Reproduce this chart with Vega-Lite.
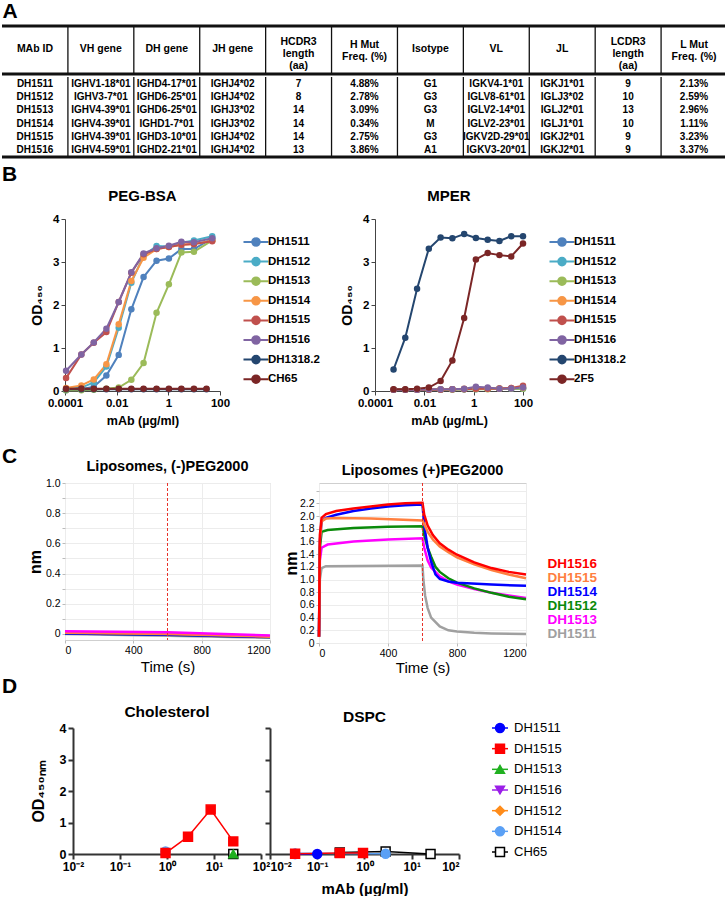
{
"$schema": "https://vega.github.io/schema/vega-lite/v6.json",
"background": "white",
"padding": 0,
"config": {
  "font": "Liberation Sans",
  "view": {"stroke": null},
  "axis": {"labelColor": "#000", "titleColor": "#000", "domainColor": "#444", "tickColor": "#444"},
  "title": {"color": "#000"},
  "legend": {"labelColor": "#000"}
},
"datasets": {
  "tbl": [
    {"MAb ID":"DH1511","VH gene":"IGHV1-18*01","DH gene":"IGHD4-17*01","JH gene":"IGHJ4*02","HCDR3":"7","H Mut":"4.88%","Isotype":"G1","VL":"IGKV4-1*01","JL":"IGKJ1*01","LCDR3":"9","L Mut":"2.13%"},
    {"MAb ID":"DH1512","VH gene":"IGHV3-7*01","DH gene":"IGHD6-25*01","JH gene":"IGHJ4*02","HCDR3":"8","H Mut":"2.78%","Isotype":"G3","VL":"IGLV8-61*01","JL":"IGLJ3*02","LCDR3":"10","L Mut":"2.59%"},
    {"MAb ID":"DH1513","VH gene":"IGHV4-39*01","DH gene":"IGHD6-25*01","JH gene":"IGHJ3*02","HCDR3":"14","H Mut":"3.09%","Isotype":"G3","VL":"IGLV2-14*01","JL":"IGLJ2*01","LCDR3":"13","L Mut":"2.96%"},
    {"MAb ID":"DH1514","VH gene":"IGHV4-39*01","DH gene":"IGHD1-7*01","JH gene":"IGHJ3*02","HCDR3":"14","H Mut":"0.34%","Isotype":"M","VL":"IGLV2-23*01","JL":"IGLJ1*01","LCDR3":"10","L Mut":"1.11%"},
    {"MAb ID":"DH1515","VH gene":"IGHV4-39*01","DH gene":"IGHD3-10*01","JH gene":"IGHJ4*02","HCDR3":"14","H Mut":"2.75%","Isotype":"G3","VL":"IGKV2D-29*01","JL":"IGKJ2*01","LCDR3":"9","L Mut":"3.23%"},
    {"MAb ID":"DH1516","VH gene":"IGHV4-59*01","DH gene":"IGHD2-21*01","JH gene":"IGHJ4*02","HCDR3":"13","H Mut":"3.86%","Isotype":"A1","VL":"IGKV3-20*01","JL":"IGKJ2*01","LCDR3":"9","L Mut":"3.37%"}
  ],
  "tblhead": [
    {"col":"MAb ID","label":"MAb ID"},{"col":"VH gene","label":"VH gene"},{"col":"DH gene","label":"DH gene"},{"col":"JH gene","label":"JH gene"},
    {"col":"HCDR3","label":"HCDR3\nlength\n(aa)"},{"col":"H Mut","label":"H Mut\nFreq. (%)"},{"col":"Isotype","label":"Isotype"},
    {"col":"VL","label":"VL"},{"col":"JL","label":"JL"},{"col":"LCDR3","label":"LCDR3\nlength\n(aa)"},{"col":"L Mut","label":"L Mut\nFreq. (%)"}
  ],
  "peg": [
    {"ab":"DH1511","conc":0.00011,"od":0.02},{"ab":"DH1511","conc":0.00043,"od":0.04},{"ab":"DH1511","conc":0.0013,"od":0.1},{"ab":"DH1511","conc":0.004,"od":0.36},{"ab":"DH1511","conc":0.012,"od":0.84},{"ab":"DH1511","conc":0.037,"od":1.9},{"ab":"DH1511","conc":0.11,"od":2.65},{"ab":"DH1511","conc":0.35,"od":3.03},{"ab":"DH1511","conc":1.05,"od":3.08},{"ab":"DH1511","conc":3.2,"od":3.3},{"ab":"DH1511","conc":9.8,"od":3.3},{"ab":"DH1511","conc":50,"od":3.55},
    {"ab":"DH1512","conc":0.00011,"od":0.04},{"ab":"DH1512","conc":0.00043,"od":0.08},{"ab":"DH1512","conc":0.0013,"od":0.2},{"ab":"DH1512","conc":0.004,"od":0.57},{"ab":"DH1512","conc":0.012,"od":1.47},{"ab":"DH1512","conc":0.037,"od":2.52},{"ab":"DH1512","conc":0.11,"od":3.15},{"ab":"DH1512","conc":0.35,"od":3.37},{"ab":"DH1512","conc":1.05,"od":3.36},{"ab":"DH1512","conc":3.2,"od":3.45},{"ab":"DH1512","conc":9.8,"od":3.5},{"ab":"DH1512","conc":50,"od":3.6},
    {"ab":"DH1513","conc":0.00011,"od":0.02},{"ab":"DH1513","conc":0.00043,"od":0.02},{"ab":"DH1513","conc":0.0013,"od":0.03},{"ab":"DH1513","conc":0.004,"od":0.05},{"ab":"DH1513","conc":0.012,"od":0.08},{"ab":"DH1513","conc":0.037,"od":0.26},{"ab":"DH1513","conc":0.11,"od":0.65},{"ab":"DH1513","conc":0.35,"od":1.82},{"ab":"DH1513","conc":1.05,"od":2.48},{"ab":"DH1513","conc":3.2,"od":3.22},{"ab":"DH1513","conc":9.8,"od":3.24},{"ab":"DH1513","conc":50,"od":3.5},
    {"ab":"DH1514","conc":0.00011,"od":0.07},{"ab":"DH1514","conc":0.00043,"od":0.13},{"ab":"DH1514","conc":0.0013,"od":0.27},{"ab":"DH1514","conc":0.004,"od":0.62},{"ab":"DH1514","conc":0.012,"od":1.55},{"ab":"DH1514","conc":0.037,"od":2.56},{"ab":"DH1514","conc":0.11,"od":3.1},{"ab":"DH1514","conc":0.35,"od":3.3},{"ab":"DH1514","conc":1.05,"od":3.35},{"ab":"DH1514","conc":3.2,"od":3.4},{"ab":"DH1514","conc":9.8,"od":3.42},{"ab":"DH1514","conc":50,"od":3.5},
    {"ab":"DH1515","conc":0.00011,"od":0.3},{"ab":"DH1515","conc":0.00043,"od":0.85},{"ab":"DH1515","conc":0.0013,"od":1.12},{"ab":"DH1515","conc":0.004,"od":1.37},{"ab":"DH1515","conc":0.012,"od":2.07},{"ab":"DH1515","conc":0.037,"od":2.75},{"ab":"DH1515","conc":0.11,"od":3.18},{"ab":"DH1515","conc":0.35,"od":3.3},{"ab":"DH1515","conc":1.05,"od":3.35},{"ab":"DH1515","conc":3.2,"od":3.4},{"ab":"DH1515","conc":9.8,"od":3.42},{"ab":"DH1515","conc":50,"od":3.48},
    {"ab":"DH1516","conc":0.00011,"od":0.47},{"ab":"DH1516","conc":0.00043,"od":0.85},{"ab":"DH1516","conc":0.0013,"od":1.13},{"ab":"DH1516","conc":0.004,"od":1.45},{"ab":"DH1516","conc":0.012,"od":2.07},{"ab":"DH1516","conc":0.037,"od":2.76},{"ab":"DH1516","conc":0.11,"od":3.2},{"ab":"DH1516","conc":0.35,"od":3.32},{"ab":"DH1516","conc":1.05,"od":3.38},{"ab":"DH1516","conc":3.2,"od":3.47},{"ab":"DH1516","conc":9.8,"od":3.46},{"ab":"DH1516","conc":50,"od":3.55},
    {"ab":"DH1318.2","conc":0.00011,"od":0.04},{"ab":"DH1318.2","conc":0.00043,"od":0.04},{"ab":"DH1318.2","conc":0.0013,"od":0.04},{"ab":"DH1318.2","conc":0.004,"od":0.04},{"ab":"DH1318.2","conc":0.012,"od":0.04},{"ab":"DH1318.2","conc":0.037,"od":0.04},{"ab":"DH1318.2","conc":0.11,"od":0.04},{"ab":"DH1318.2","conc":0.35,"od":0.04},{"ab":"DH1318.2","conc":1.05,"od":0.04},{"ab":"DH1318.2","conc":3.2,"od":0.04},{"ab":"DH1318.2","conc":9.8,"od":0.04},{"ab":"DH1318.2","conc":30,"od":0.04},
    {"ab":"CH65","conc":0.00011,"od":0.05},{"ab":"CH65","conc":0.00043,"od":0.06},{"ab":"CH65","conc":0.0013,"od":0.05},{"ab":"CH65","conc":0.004,"od":0.05},{"ab":"CH65","conc":0.012,"od":0.05},{"ab":"CH65","conc":0.037,"od":0.05},{"ab":"CH65","conc":0.11,"od":0.05},{"ab":"CH65","conc":0.35,"od":0.05},{"ab":"CH65","conc":1.05,"od":0.05},{"ab":"CH65","conc":3.2,"od":0.05},{"ab":"CH65","conc":9.8,"od":0.05},{"ab":"CH65","conc":30,"od":0.05}
  ],
  "mper": [
    {"ab":"DH1511","conc":0.000565,"od":0.03},{"ab":"DH1511","conc":0.00169,"od":0.03},{"ab":"DH1511","conc":0.00508,"od":0.03},{"ab":"DH1511","conc":0.0152,"od":0.03},{"ab":"DH1511","conc":0.0457,"od":0.03},{"ab":"DH1511","conc":0.137,"od":0.04},{"ab":"DH1511","conc":0.412,"od":0.04},{"ab":"DH1511","conc":1.23,"od":0.04},{"ab":"DH1511","conc":3.7,"od":0.05},{"ab":"DH1511","conc":11.1,"od":0.05},{"ab":"DH1511","conc":33.3,"od":0.05},{"ab":"DH1511","conc":100,"od":0.06},
    {"ab":"DH1512","conc":0.000565,"od":0.03},{"ab":"DH1512","conc":0.00169,"od":0.03},{"ab":"DH1512","conc":0.00508,"od":0.03},{"ab":"DH1512","conc":0.0152,"od":0.03},{"ab":"DH1512","conc":0.0457,"od":0.04},{"ab":"DH1512","conc":0.137,"od":0.04},{"ab":"DH1512","conc":0.412,"od":0.04},{"ab":"DH1512","conc":1.23,"od":0.05},{"ab":"DH1512","conc":3.7,"od":0.05},{"ab":"DH1512","conc":11.1,"od":0.05},{"ab":"DH1512","conc":33.3,"od":0.06},{"ab":"DH1512","conc":100,"od":0.06},
    {"ab":"DH1513","conc":0.000565,"od":0.03},{"ab":"DH1513","conc":0.00169,"od":0.03},{"ab":"DH1513","conc":0.00508,"od":0.03},{"ab":"DH1513","conc":0.0152,"od":0.03},{"ab":"DH1513","conc":0.0457,"od":0.03},{"ab":"DH1513","conc":0.137,"od":0.03},{"ab":"DH1513","conc":0.412,"od":0.04},{"ab":"DH1513","conc":1.23,"od":0.04},{"ab":"DH1513","conc":3.7,"od":0.04},{"ab":"DH1513","conc":11.1,"od":0.05},{"ab":"DH1513","conc":33.3,"od":0.05},{"ab":"DH1513","conc":100,"od":0.05},
    {"ab":"DH1514","conc":0.000565,"od":0.03},{"ab":"DH1514","conc":0.00169,"od":0.03},{"ab":"DH1514","conc":0.00508,"od":0.03},{"ab":"DH1514","conc":0.0152,"od":0.04},{"ab":"DH1514","conc":0.0457,"od":0.04},{"ab":"DH1514","conc":0.137,"od":0.04},{"ab":"DH1514","conc":0.412,"od":0.05},{"ab":"DH1514","conc":1.23,"od":0.05},{"ab":"DH1514","conc":3.7,"od":0.06},{"ab":"DH1514","conc":11.1,"od":0.06},{"ab":"DH1514","conc":33.3,"od":0.07},{"ab":"DH1514","conc":100,"od":0.08},
    {"ab":"DH1515","conc":0.000565,"od":0.03},{"ab":"DH1515","conc":0.00169,"od":0.03},{"ab":"DH1515","conc":0.00508,"od":0.03},{"ab":"DH1515","conc":0.0152,"od":0.03},{"ab":"DH1515","conc":0.0457,"od":0.03},{"ab":"DH1515","conc":0.137,"od":0.04},{"ab":"DH1515","conc":0.412,"od":0.04},{"ab":"DH1515","conc":1.23,"od":0.05},{"ab":"DH1515","conc":3.7,"od":0.05},{"ab":"DH1515","conc":11.1,"od":0.06},{"ab":"DH1515","conc":33.3,"od":0.07},{"ab":"DH1515","conc":100,"od":0.12},
    {"ab":"DH1516","conc":0.000565,"od":0.03},{"ab":"DH1516","conc":0.00169,"od":0.03},{"ab":"DH1516","conc":0.00508,"od":0.03},{"ab":"DH1516","conc":0.0152,"od":0.04},{"ab":"DH1516","conc":0.0457,"od":0.04},{"ab":"DH1516","conc":0.137,"od":0.04},{"ab":"DH1516","conc":0.412,"od":0.05},{"ab":"DH1516","conc":1.23,"od":0.1},{"ab":"DH1516","conc":3.7,"od":0.08},{"ab":"DH1516","conc":11.1,"od":0.05},{"ab":"DH1516","conc":33.3,"od":0.06},{"ab":"DH1516","conc":100,"od":0.08},
    {"ab":"DH1318.2","conc":0.000565,"od":0.5},{"ab":"DH1318.2","conc":0.00169,"od":1.24},{"ab":"DH1318.2","conc":0.00508,"od":2.38},{"ab":"DH1318.2","conc":0.0152,"od":3.31},{"ab":"DH1318.2","conc":0.0457,"od":3.57},{"ab":"DH1318.2","conc":0.137,"od":3.55},{"ab":"DH1318.2","conc":0.412,"od":3.65},{"ab":"DH1318.2","conc":1.23,"od":3.56},{"ab":"DH1318.2","conc":3.7,"od":3.52},{"ab":"DH1318.2","conc":11.1,"od":3.49},{"ab":"DH1318.2","conc":33.3,"od":3.6},{"ab":"DH1318.2","conc":100,"od":3.6},
    {"ab":"2F5","conc":0.000565,"od":0.04},{"ab":"2F5","conc":0.00169,"od":0.04},{"ab":"2F5","conc":0.00508,"od":0.05},{"ab":"2F5","conc":0.0152,"od":0.08},{"ab":"2F5","conc":0.0457,"od":0.23},{"ab":"2F5","conc":0.137,"od":0.71},{"ab":"2F5","conc":0.412,"od":1.7},{"ab":"2F5","conc":1.23,"od":3.06},{"ab":"2F5","conc":3.7,"od":3.21},{"ab":"2F5","conc":11.1,"od":3.16},{"ab":"2F5","conc":33.3,"od":3.13},{"ab":"2F5","conc":100,"od":3.43}
  ],
  "lipoNeg": [
    {"ab":"DH1511","t":0,"nm":0.0},{"ab":"DH1511","t":600,"nm":-0.012},{"ab":"DH1511","t":1200,"nm":-0.025},
    {"ab":"DH1512","t":0,"nm":0.005},{"ab":"DH1512","t":600,"nm":-0.005},{"ab":"DH1512","t":1200,"nm":-0.02},
    {"ab":"DH1514","t":0,"nm":0.003},{"ab":"DH1514","t":600,"nm":-0.005},{"ab":"DH1514","t":1200,"nm":-0.02},
    {"ab":"DH1516","t":0,"nm":0.01},{"ab":"DH1516","t":600,"nm":0.003},{"ab":"DH1516","t":1200,"nm":-0.015},
    {"ab":"DH1515","t":0,"nm":0.008},{"ab":"DH1515","t":600,"nm":0.0},{"ab":"DH1515","t":1200,"nm":-0.018},
    {"ab":"DH1513","t":0,"nm":0.018},{"ab":"DH1513","t":600,"nm":0.012},{"ab":"DH1513","t":1200,"nm":-0.01}
  ],
  "lipoPos": [
    {"ab":"DH1511","t":0,"nm":0.1},{"ab":"DH1511","t":5,"nm":1.0},{"ab":"DH1511","t":15,"nm":1.18},{"ab":"DH1511","t":40,"nm":1.21},{"ab":"DH1511","t":600,"nm":1.22},{"ab":"DH1511","t":605,"nm":1.0},{"ab":"DH1511","t":615,"nm":0.75},{"ab":"DH1511","t":630,"nm":0.55},{"ab":"DH1511","t":650,"nm":0.4},{"ab":"DH1511","t":700,"nm":0.26},{"ab":"DH1511","t":750,"nm":0.2},{"ab":"DH1511","t":800,"nm":0.18},{"ab":"DH1511","t":900,"nm":0.16},{"ab":"DH1511","t":1000,"nm":0.15},{"ab":"DH1511","t":1200,"nm":0.14},
    {"ab":"DH1513","t":0,"nm":0.1},{"ab":"DH1513","t":5,"nm":1.3},{"ab":"DH1513","t":15,"nm":1.5},{"ab":"DH1513","t":50,"nm":1.55},{"ab":"DH1513","t":200,"nm":1.6},{"ab":"DH1513","t":400,"nm":1.63},{"ab":"DH1513","t":600,"nm":1.65},{"ab":"DH1513","t":610,"nm":1.5},{"ab":"DH1513","t":630,"nm":1.3},{"ab":"DH1513","t":650,"nm":1.19},{"ab":"DH1513","t":675,"nm":1.12},{"ab":"DH1513","t":700,"nm":1.05},{"ab":"DH1513","t":750,"nm":0.97},{"ab":"DH1513","t":800,"nm":0.92},{"ab":"DH1513","t":900,"nm":0.85},{"ab":"DH1513","t":1000,"nm":0.79},{"ab":"DH1513","t":1100,"nm":0.75},{"ab":"DH1513","t":1200,"nm":0.71},
    {"ab":"DH1512","t":0,"nm":0.1},{"ab":"DH1512","t":5,"nm":1.5},{"ab":"DH1512","t":15,"nm":1.75},{"ab":"DH1512","t":50,"nm":1.78},{"ab":"DH1512","t":200,"nm":1.81},{"ab":"DH1512","t":400,"nm":1.83},{"ab":"DH1512","t":600,"nm":1.84},{"ab":"DH1512","t":610,"nm":1.7},{"ab":"DH1512","t":630,"nm":1.5},{"ab":"DH1512","t":650,"nm":1.36},{"ab":"DH1512","t":675,"nm":1.2},{"ab":"DH1512","t":700,"nm":1.12},{"ab":"DH1512","t":750,"nm":1.02},{"ab":"DH1512","t":800,"nm":0.95},{"ab":"DH1512","t":900,"nm":0.86},{"ab":"DH1512","t":1000,"nm":0.79},{"ab":"DH1512","t":1100,"nm":0.73},{"ab":"DH1512","t":1200,"nm":0.69},
    {"ab":"DH1514","t":0,"nm":0.1},{"ab":"DH1514","t":5,"nm":1.6},{"ab":"DH1514","t":15,"nm":1.92},{"ab":"DH1514","t":40,"nm":1.97},{"ab":"DH1514","t":100,"nm":2.02},{"ab":"DH1514","t":200,"nm":2.08},{"ab":"DH1514","t":300,"nm":2.12},{"ab":"DH1514","t":400,"nm":2.15},{"ab":"DH1514","t":500,"nm":2.17},{"ab":"DH1514","t":600,"nm":2.18},{"ab":"DH1514","t":610,"nm":1.85},{"ab":"DH1514","t":630,"nm":1.5},{"ab":"DH1514","t":650,"nm":1.28},{"ab":"DH1514","t":675,"nm":1.08},{"ab":"DH1514","t":700,"nm":1.01},{"ab":"DH1514","t":750,"nm":0.97},{"ab":"DH1514","t":800,"nm":0.95},{"ab":"DH1514","t":1000,"nm":0.92},{"ab":"DH1514","t":1200,"nm":0.9},
    {"ab":"DH1515","t":0,"nm":0.1},{"ab":"DH1515","t":5,"nm":1.6},{"ab":"DH1515","t":15,"nm":1.92},{"ab":"DH1515","t":40,"nm":1.96},{"ab":"DH1515","t":100,"nm":1.97},{"ab":"DH1515","t":300,"nm":1.96},{"ab":"DH1515","t":600,"nm":1.93},{"ab":"DH1515","t":610,"nm":1.87},{"ab":"DH1515","t":630,"nm":1.75},{"ab":"DH1515","t":660,"nm":1.63},{"ab":"DH1515","t":700,"nm":1.52},{"ab":"DH1515","t":750,"nm":1.43},{"ab":"DH1515","t":800,"nm":1.35},{"ab":"DH1515","t":900,"nm":1.24},{"ab":"DH1515","t":1000,"nm":1.15},{"ab":"DH1515","t":1100,"nm":1.08},{"ab":"DH1515","t":1200,"nm":1.02},
    {"ab":"DH1516","t":0,"nm":0.1},{"ab":"DH1516","t":5,"nm":1.7},{"ab":"DH1516","t":15,"nm":1.97},{"ab":"DH1516","t":40,"nm":2.03},{"ab":"DH1516","t":100,"nm":2.08},{"ab":"DH1516","t":200,"nm":2.12},{"ab":"DH1516","t":300,"nm":2.15},{"ab":"DH1516","t":400,"nm":2.18},{"ab":"DH1516","t":500,"nm":2.2},{"ab":"DH1516","t":600,"nm":2.21},{"ab":"DH1516","t":610,"nm":2.02},{"ab":"DH1516","t":630,"nm":1.85},{"ab":"DH1516","t":660,"nm":1.7},{"ab":"DH1516","t":700,"nm":1.57},{"ab":"DH1516","t":750,"nm":1.47},{"ab":"DH1516","t":800,"nm":1.39},{"ab":"DH1516","t":900,"nm":1.27},{"ab":"DH1516","t":1000,"nm":1.18},{"ab":"DH1516","t":1100,"nm":1.12},{"ab":"DH1516","t":1200,"nm":1.08}
  ],
  "chol": [
    {"ab":"CH65","conc":25.7,"od":0.0},
    {"ab":"DH1514","conc":0.93,"od":0.08},
    {"ab":"DH1515","conc":0.93,"od":0.03},{"ab":"DH1515","conc":2.8,"od":0.55},{"ab":"DH1515","conc":8.5,"od":1.41},{"ab":"DH1515","conc":25.7,"od":0.4},
    {"ab":"DH1513","conc":25.7,"od":0.0}
  ],
  "dspc": [
    {"ab":"CH65","conc":0.3,"od":0.05},{"ab":"CH65","conc":2.8,"od":0.08},{"ab":"CH65","conc":25,"od":0.0},
    {"ab":"DH1514","conc":0.034,"od":0.02},{"ab":"DH1514","conc":2.8,"od":0.01},
    {"ab":"DH1511","conc":0.034,"od":0.0},{"ab":"DH1511","conc":0.1,"od":0.0},
    {"ab":"DH1515","conc":0.034,"od":0.01},{"ab":"DH1515","conc":0.3,"od":0.03},{"ab":"DH1515","conc":0.93,"od":0.03}
  ],
  "dlegend": [
    {"ab":"DH1511"},{"ab":"DH1515"},{"ab":"DH1513"},{"ab":"DH1516"},{"ab":"DH1512"},{"ab":"DH1514"},{"ab":"CH65"}
  ]
},
"columns": 1,
"align": "none",
"spacing": 5,
"resolve": {"scale": {"x":"independent","y":"independent","color":"independent","fill":"independent","stroke":"independent","shape":"independent"}, "legend": {"color":"independent","fill":"independent","stroke":"independent","shape":"independent"}, "axis": {"x":"independent","y":"independent"}},
"concat": [
  {
    "title": {"text": "A", "anchor": "start", "fontSize": 21, "fontWeight": "bold", "offset": 3, "dx": 2},
    "spacing": 0,
    "resolve": {"scale": {"x":"independent","y":"independent"}},
    "vconcat": [
      {
        "width": 725, "height": 48,
        "data": {"name": "tblhead"},
        "layer": [
          {"transform": [{"filter": "indexof(datum.label, 'Freq') < 0 && indexof(datum.label, 'length') < 0"}],
           "mark": {"type": "text", "fontSize": 10.5, "fontWeight": "bold", "baseline": "middle", "dy": -1},
           "encoding": {"x": {"field": "col", "type": "nominal", "sort": ["MAb ID","VH gene","DH gene","JH gene","HCDR3","H Mut","Isotype","VL","JL","LCDR3","L Mut"], "scale": {"paddingInner": 0, "paddingOuter": 0}, "axis": null}, "text": {"field": "label"}}},
          {"transform": [{"filter": "indexof(datum.label, 'length') >= 0"}],
           "mark": {"type": "text", "fontSize": 10.5, "fontWeight": "bold", "lineBreak": "\n", "lineHeight": 12, "baseline": "middle", "dy": -8},
           "encoding": {"x": {"field": "col", "type": "nominal", "sort": ["MAb ID","VH gene","DH gene","JH gene","HCDR3","H Mut","Isotype","VL","JL","LCDR3","L Mut"]}, "text": {"field": "label"}}},
          {"transform": [{"filter": "indexof(datum.label, 'Freq') >= 0"}],
           "mark": {"type": "text", "fontSize": 10.5, "fontWeight": "bold", "lineBreak": "\n", "lineHeight": 12, "baseline": "middle", "dy": -5},
           "encoding": {"x": {"field": "col", "type": "nominal", "sort": ["MAb ID","VH gene","DH gene","JH gene","HCDR3","H Mut","Isotype","VL","JL","LCDR3","L Mut"]}, "text": {"field": "label"}}},
          {"transform": [{"filter": "datum.col != 'MAb ID'"}], "mark": {"type": "rule", "color": "#111", "strokeWidth": 1.3},
           "encoding": {"x": {"field": "col", "type": "nominal", "sort": ["MAb ID","VH gene","DH gene","JH gene","HCDR3","H Mut","Isotype","VL","JL","LCDR3","L Mut"], "bandPosition": 0}}},
          {"transform": [{"filter": "datum.col == 'MAb ID'"}], "mark": {"type": "rule", "color": "#111", "strokeWidth": 3},
           "encoding": {"y": {"field": "col", "type": "nominal", "bandPosition": 0, "scale": {"paddingInner": 0, "paddingOuter": 0}, "axis": null}}},
          {"transform": [{"filter": "datum.col == 'MAb ID'"}], "mark": {"type": "rule", "color": "#111", "strokeWidth": 3},
           "encoding": {"y": {"field": "col", "type": "nominal", "bandPosition": 1}}}
        ]
      },
      {
        "width": 725, "height": 80,
        "data": {"name": "tbl"},
        "transform": [{"fold": ["MAb ID","VH gene","DH gene","JH gene","HCDR3","H Mut","Isotype","VL","JL","LCDR3","L Mut"], "as": ["col", "val"]}],
        "layer": [
          {"mark": {"type": "text", "fontSize": 10, "fontWeight": "bold", "baseline": "middle"},
           "encoding": {
             "x": {"field": "col", "type": "nominal", "sort": ["MAb ID","VH gene","DH gene","JH gene","HCDR3","H Mut","Isotype","VL","JL","LCDR3","L Mut"], "scale": {"paddingInner": 0, "paddingOuter": 0}, "axis": null},
             "y": {"field": "MAb ID", "type": "nominal", "sort": null, "scale": {"paddingInner": 0, "paddingOuter": 0}, "axis": null},
             "text": {"field": "val"}}},
          {"transform": [{"filter": "datum.col != 'MAb ID' && datum['MAb ID'] == 'DH1511'"}], "mark": {"type": "rule", "color": "#111", "strokeWidth": 1.3},
           "encoding": {"x": {"field": "col", "type": "nominal", "sort": ["MAb ID","VH gene","DH gene","JH gene","HCDR3","H Mut","Isotype","VL","JL","LCDR3","L Mut"], "bandPosition": 0}}},
          {"transform": [{"filter": "datum.col == 'MAb ID' && datum['MAb ID'] == 'DH1516'"}], "mark": {"type": "rule", "color": "#111", "strokeWidth": 3},
           "encoding": {"y": {"field": "MAb ID", "type": "nominal", "sort": null, "bandPosition": 1}}}
        ]
      }
    ]
  },
  {
    "columns": 1,
    "align": "none",
    "spacing": 19,
    "resolve": {"scale": {"x":"independent","y":"independent","color":"independent","fill":"independent","stroke":"independent","shape":"independent"}, "legend": {"color":"independent","fill":"independent","stroke":"independent","shape":"independent"}, "axis": {"x":"independent","y":"independent"}},
    "concat": [
      {
        "spacing": 12,
        "resolve": {"scale": {"x":"independent","y":"independent","color":"independent"}, "legend": {"color":"independent"}, "axis": {"x":"independent","y":"independent"}},
        "hconcat": [
          {"width": 1, "height": 172, "title": {"text": "B", "anchor": "start", "fontSize": 21, "fontWeight": "bold", "offset": 34},
           "data": {"values": []}, "mark": "point", "encoding": {}},
          {
            "spacing": 20,
            "resolve": {"scale": {"x":"independent","y":"independent","color":"independent"}, "legend": {"color":"independent"}, "axis": {"x":"independent","y":"independent"}},
            "hconcat": [
              {
                "title": {"text": "PEG-BSA", "fontSize": 15, "fontWeight": "bold", "offset": 9},
                "width": 155, "height": 172,
                "data": {"name": "peg"},
                "encoding": {
                  "x": {"field": "conc", "type": "quantitative", "scale": {"type": "log", "domain": [0.0001, 100]},
                        "axis": {"values": [0.0001, 0.01, 1, 100], "labelExpr": "datum.value < 0.001 ? '0.0001' : datum.value < 0.1 ? '0.01' : datum.value < 10 ? '1' : '100'", "title": "mAb (µg/ml)", "titleFontSize": 12.5, "titleFontWeight": "bold", "labelFontSize": 11.5, "labelFontWeight": "bold", "tickSize": 4, "grid": false, "labelFlush": false, "titlePadding": 6}},
                  "y": {"field": "od", "type": "quantitative", "scale": {"domain": [0, 4]},
                        "axis": {"values": [0, 1, 2, 3, 4], "title": "OD₄₅₀", "titleFontSize": 14, "titleFontWeight": "bold", "labelFontSize": 11.5, "labelFontWeight": "bold", "tickSize": 4, "grid": false, "titlePadding": 8}},
                  "color": {"field": "ab", "type": "nominal",
                            "scale": {"domain": ["DH1511","DH1512","DH1513","DH1514","DH1515","DH1516","DH1318.2","CH65"], "range": ["#4F81BD","#4BACC6","#9BBB59","#F79646","#C0504D","#8064A2","#24466F","#7B2626"]},
                            "legend": {"orient": "none", "legendX": 181, "legendY": 13, "title": null, "symbolType": "M-1.39,0L1.39,0M0.42,0A0.42,0.42,0,1,1,-0.42,0A0.42,0.42,0,1,1,0.42,0Z", "symbolSize": 324, "symbolStrokeWidth": 2, "labelFontSize": 11.5, "labelFontWeight": "bold", "labelOffset": 2, "rowPadding": 1.6,
                                       "encode": {"symbols": {"update": {
                                         "fill": {"signal": "{'DH1511':'#4F81BD','DH1512':'#4BACC6','DH1513':'#9BBB59','DH1514':'#F79646','DH1515':'#C0504D','DH1516':'#8064A2','DH1318.2':'#24466F','CH65':'#7B2626'}[datum.value]"},
                                         "stroke": {"signal": "{'DH1511':'#4F81BD','DH1512':'#4BACC6','DH1513':'#9BBB59','DH1514':'#F79646','DH1515':'#C0504D','DH1516':'#8064A2','DH1318.2':'#24466F','CH65':'#7B2626'}[datum.value]"},
                                         "opacity": {"value": 1}}}}}}
                },
                "layer": [
                  {"mark": {"type": "line", "strokeWidth": 2}},
                  {"mark": {"type": "circle", "size": 42, "opacity": 1}}
                ]
              },
              {
                "title": {"text": "MPER", "fontSize": 15, "fontWeight": "bold", "offset": 9},
                "width": 148, "height": 172,
                "data": {"name": "mper"},
                "encoding": {
                  "x": {"field": "conc", "type": "quantitative", "scale": {"type": "log", "domain": [0.0001, 100]},
                        "axis": {"values": [0.0001, 0.01, 1, 100], "labelExpr": "datum.value < 0.001 ? '0.0001' : datum.value < 0.1 ? '0.01' : datum.value < 10 ? '1' : '100'", "title": "mAb (µg/mL)", "titleFontSize": 12.5, "titleFontWeight": "bold", "labelFontSize": 11.5, "labelFontWeight": "bold", "tickSize": 4, "grid": false, "labelFlush": false, "titlePadding": 6}},
                  "y": {"field": "od", "type": "quantitative", "scale": {"domain": [0, 4]},
                        "axis": {"values": [0, 1, 2, 3, 4], "title": "OD₄₅₀", "titleFontSize": 14, "titleFontWeight": "bold", "labelFontSize": 11.5, "labelFontWeight": "bold", "tickSize": 4, "grid": false, "titlePadding": 8}},
                  "color": {"field": "ab", "type": "nominal",
                            "scale": {"domain": ["DH1511","DH1512","DH1513","DH1514","DH1515","DH1516","DH1318.2","2F5"], "range": ["#4F81BD","#4BACC6","#9BBB59","#F79646","#C0504D","#8064A2","#24466F","#7B2626"]},
                            "legend": {"orient": "none", "legendX": 177, "legendY": 13, "title": null, "symbolType": "M-1.39,0L1.39,0M0.42,0A0.42,0.42,0,1,1,-0.42,0A0.42,0.42,0,1,1,0.42,0Z", "symbolSize": 324, "symbolStrokeWidth": 2, "labelFontSize": 11.5, "labelFontWeight": "bold", "labelOffset": 2, "rowPadding": 1.6,
                                       "encode": {"symbols": {"update": {
                                         "fill": {"signal": "{'DH1511':'#4F81BD','DH1512':'#4BACC6','DH1513':'#9BBB59','DH1514':'#F79646','DH1515':'#C0504D','DH1516':'#8064A2','DH1318.2':'#24466F','2F5':'#7B2626'}[datum.value]"},
                                         "stroke": {"signal": "{'DH1511':'#4F81BD','DH1512':'#4BACC6','DH1513':'#9BBB59','DH1514':'#F79646','DH1515':'#C0504D','DH1516':'#8064A2','DH1318.2':'#24466F','2F5':'#7B2626'}[datum.value]"},
                                         "opacity": {"value": 1}}}}}}
                },
                "layer": [
                  {"mark": {"type": "line", "strokeWidth": 2}},
                  {"mark": {"type": "circle", "size": 42, "opacity": 1}}
                ]
              }
            ]
          }
        ]
      },
      {
        "columns": 1,
        "align": "none",
        "spacing": 0,
        "resolve": {"scale": {"x":"independent","y":"independent","color":"independent","fill":"independent","stroke":"independent","shape":"independent"}, "legend": {"color":"independent","fill":"independent","stroke":"independent","shape":"independent"}, "axis": {"x":"independent","y":"independent"}},
        "concat": [
          {
            "spacing": 8,
            "resolve": {"scale": {"x":"independent","y":"independent","color":"independent"}, "legend": {"color":"independent"}, "axis": {"x":"independent","y":"independent"}},
            "hconcat": [
              {"width": 1, "height": 157, "title": {"text": "C", "anchor": "start", "fontSize": 21, "fontWeight": "bold", "offset": 16},
               "data": {"values": []}, "mark": "point", "encoding": {}},
              {
                "spacing": 6,
                "resolve": {"scale": {"x":"independent","y":"independent","color":"independent"}, "legend": {"color":"independent"}, "axis": {"x":"independent","y":"independent"}},
                "hconcat": [
                  {
                    "title": {"text": "Liposomes, (-)PEG2000", "fontSize": 14.5, "fontWeight": "bold", "offset": 4},
                    "width": 205, "height": 157,
                    "view": {"stroke": "#cfcfcf"},
                    "layer": [
                      {"data": {"name": "lipoNeg"}, "mark": {"type": "line", "strokeWidth": 2.5},
                       "encoding": {
                         "x": {"field": "t", "type": "quantitative", "scale": {"domain": [0, 1200]},
                               "axis": {"values": [0,100,200,300,400,500,600,700,800,900,1000,1100,1200], "format": "d", "labelExpr": "datum.value % 200 == 0 ? datum.label : ''", "labelOverlap": false, "title": "Time (s)", "titleFontSize": 15, "titleFontWeight": "normal", "labelFontSize": 10.5, "grid": true, "gridColor": "#ececec", "domain": false, "tickColor": "#bbb", "tickSize": 3, "titlePadding": 4}},
                         "y": {"field": "nm", "type": "quantitative", "scale": {"domain": [-0.04, 1.0]},
                               "axis": {"values": [0,0.1,0.2,0.3,0.4,0.5,0.6,0.7,0.8,0.9,1.0], "labelExpr": "round(datum.value*10) % 2 == 0 ? (datum.value == 0 ? '0' : format(datum.value, '.1f')) : ''", "labelOverlap": false, "title": "nm", "titleFontSize": 16, "titleFontWeight": "bold", "labelFontSize": 10.5, "grid": true, "gridColor": "#ececec", "domain": false, "tickColor": "#bbb", "tickSize": 3, "titlePadding": 2}},
                         "color": {"field": "ab", "type": "nominal", "scale": {"domain": ["DH1516","DH1515","DH1514","DH1512","DH1513","DH1511"], "range": ["#FF0000","#FF7F3F","#0000FF","#0A8A0A","#FF00FF","#A0A0A0"]}, "legend": null}}},
                      {"data": {"values": [{"t": 600}]}, "mark": {"type": "rule", "color": "#E8322A", "strokeDash": [3, 2], "strokeWidth": 1},
                       "encoding": {"x": {"field": "t", "type": "quantitative"}}}
                    ]
                  },
                  {
                    "title": {"text": "Liposomes (+)PEG2000", "fontSize": 14.5, "fontWeight": "bold", "offset": 4},
                    "width": 207, "height": 160,
                    "view": {"stroke": "#cfcfcf"},
                    "layer": [
                      {"data": {"name": "lipoPos"}, "mark": {"type": "line", "strokeWidth": 2.5},
                       "encoding": {
                         "x": {"field": "t", "type": "quantitative", "scale": {"domain": [0, 1200]},
                               "axis": {"values": [0,100,200,300,400,500,600,700,800,900,1000,1100,1200], "format": "d", "labelExpr": "datum.value % 200 == 0 ? datum.label : ''", "labelOverlap": false, "title": "Time (s)", "titleFontSize": 15, "titleFontWeight": "normal", "labelFontSize": 10.5, "grid": true, "gridColor": "#ececec", "domain": false, "tickColor": "#bbb", "tickSize": 3, "titlePadding": 2}},
                         "y": {"field": "nm", "type": "quantitative", "scale": {"domain": [0, 2.52]},
                               "axis": {"values": [0,0.2,0.4,0.6,0.8,1.0,1.2,1.4,1.6,1.8,2.0,2.2,2.4], "labelExpr": "datum.value > 2.3 ? '' : (datum.value == 0 ? '0' : format(datum.value, '.1f'))", "labelOverlap": false, "title": "nm", "titleFontSize": 16, "titleFontWeight": "bold", "labelFontSize": 10.5, "grid": true, "gridColor": "#ececec", "domain": false, "tickColor": "#bbb", "tickSize": 3, "titlePadding": 0}},
                         "color": {"field": "ab", "type": "nominal", "scale": {"domain": ["DH1516","DH1515","DH1514","DH1512","DH1513","DH1511"], "range": ["#FF0000","#FF7F3F","#0000FF","#0A8A0A","#FF00FF","#A0A0A0"]},
                                   "legend": {"orient": "none", "legendX": 215, "legendY": 74, "title": null, "symbolSize": 0, "symbolStrokeWidth": 0, "symbolOpacity": 0, "labelOffset": 0, "labelFontSize": 13.5, "labelFontWeight": "bold", "rowPadding": -4,
                                              "encode": {"labels": {"update": {"fill": {"signal": "{'DH1516':'#FF0000','DH1515':'#FF7F3F','DH1514':'#0000FF','DH1512':'#0A8A0A','DH1513':'#FF00FF','DH1511':'#A0A0A0'}[datum.value]"}}}}}}}},
                      {"data": {"values": [{"t": 600}]}, "mark": {"type": "rule", "color": "#E8322A", "strokeDash": [3, 2], "strokeWidth": 1},
                       "encoding": {"x": {"field": "t", "type": "quantitative"}}}
                    ]
                  }
                ]
              }
            ]
          },
          {
            "spacing": 12,
            "resolve": {"scale": {"x":"independent","y":"independent","fill":"independent","stroke":"independent","shape":"independent"}, "legend": {"fill":"independent","stroke":"independent","shape":"independent"}, "axis": {"x":"independent","y":"independent"}},
            "hconcat": [
              {"width": 1, "height": 126, "title": {"text": "D", "anchor": "start", "fontSize": 21, "fontWeight": "bold", "offset": 31},
               "data": {"values": []}, "mark": "point", "encoding": {}},
              {
                "spacing": 31,
                "resolve": {"scale": {"x":"independent","y":"independent","fill":"independent","stroke":"independent","shape":"independent"}, "legend": {"fill":"independent","stroke":"independent","shape":"independent"}, "axis": {"x":"independent","y":"independent"}},
                "hconcat": [
                  {
                    "spacing": -9,
                    "resolve": {"scale": {"x":"independent","y":"independent","fill":"independent","stroke":"independent","shape":"independent"}, "legend": {"fill":"independent","stroke":"independent","shape":"independent"}, "axis": {"x":"independent","y":"independent"}},
                    "hconcat": [
                      {
                        "title": {"text": "Cholesterol", "fontSize": 15.5, "fontWeight": "bold", "offset": 2},
                        "width": 188, "height": 126,
                        "data": {"name": "chol"},
                        "encoding": {
                          "x": {"field": "conc", "type": "quantitative", "scale": {"type": "log", "domain": [0.01, 100]},
                                "axis": {"values": [0.01, 0.1, 1, 10, 100], "labelExpr": "datum.value < 0.05 ? '10⁻²' : datum.value < 0.5 ? '10⁻¹' : datum.value < 5 ? '10⁰' : datum.value < 50 ? '10¹' : '10²'", "labelFontSize": 12, "labelFontWeight": "bold", "domainColor": "#333", "domainWidth": 2, "tickColor": "#333", "tickWidth": 2, "tickSize": 5, "grid": false, "labelFlush": false, "title": null}},
                          "y": {"field": "od", "type": "quantitative", "scale": {"domain": [0, 4]},
                                "axis": {"values": [0, 1, 2, 3, 4], "title": "OD₄₅₀ₙₘ", "titleFontSize": 16, "titleFontWeight": "bold", "labelFontSize": 12.5, "labelFontWeight": "bold", "domainColor": "#333", "domainWidth": 2, "tickColor": "#333", "tickWidth": 2, "tickSize": 5, "grid": false, "titlePadding": 13}}
                        },
                        "layer": [
                          {"mark": {"type": "line", "strokeWidth": 1.5},
                           "encoding": {"stroke": {"field": "ab", "type": "nominal", "scale": {"domain": ["DH1511","DH1515","DH1513","DH1516","DH1512","DH1514","CH65"], "range": ["#0000FF","#FF0000","#20B020","#9B1FE8","#FF8C1A","#5AA0F5","#000000"]}, "legend": null}}},
                          {"mark": {"type": "point", "filled": true, "size": 80, "opacity": 1, "strokeWidth": 1.5},
                           "encoding": {
                             "shape": {"field": "ab", "type": "nominal", "scale": {"domain": ["DH1511","DH1515","DH1513","DH1516","DH1512","DH1514","CH65"], "range": ["circle","square","triangle-up","triangle-down","diamond","circle","square"]}, "legend": null},
                             "fill": {"field": "ab", "type": "nominal", "scale": {"domain": ["DH1511","DH1515","DH1513","DH1516","DH1512","DH1514","CH65"], "range": ["#0000FF","#FF0000","#20B020","#9B1FE8","#FF8C1A","#5AA0F5","#FFFFFF"]}, "legend": null},
                             "stroke": {"field": "ab", "type": "nominal", "legend": null}}}
                        ]
                      },
                      {
                        "title": {"text": "DSPC", "fontSize": 15.5, "fontWeight": "bold", "offset": 2},
                        "width": 189, "height": 126,
                        "data": {"name": "dspc"},
                        "encoding": {
                          "x": {"field": "conc", "type": "quantitative", "scale": {"type": "log", "domain": [0.01, 100]},
                                "axis": {"values": [0.01, 0.1, 1, 10, 100], "labelExpr": "datum.value < 0.05 ? '10⁻²' : datum.value < 0.5 ? '10⁻¹' : datum.value < 5 ? '10⁰' : datum.value < 50 ? '10¹' : '10²'", "labelFontSize": 12, "labelFontWeight": "bold", "domainColor": "#333", "domainWidth": 2, "tickColor": "#333", "tickWidth": 2, "tickSize": 5, "grid": false, "labelFlush": true, "title": "mAb (µg/ml)", "titleFontSize": 15, "titleFontWeight": "bold", "titlePadding": 9}},
                          "y": {"field": "od", "type": "quantitative", "scale": {"domain": [0, 4]},
                                "axis": {"values": [0, 1, 2, 3, 4], "labels": false, "title": null, "minExtent": 0, "domainColor": "#333", "domainWidth": 2, "tickColor": "#333", "tickWidth": 2, "tickSize": 5, "grid": false}}
                        },
                        "layer": [
                          {"mark": {"type": "line", "strokeWidth": 1.5},
                           "encoding": {"stroke": {"field": "ab", "type": "nominal", "scale": {"domain": ["DH1511","DH1515","DH1513","DH1516","DH1512","DH1514","CH65"], "range": ["#0000FF","#FF0000","#20B020","#9B1FE8","#FF8C1A","#5AA0F5","#000000"]}, "legend": null}}},
                          {"mark": {"type": "point", "filled": true, "size": 80, "opacity": 1, "strokeWidth": 1.5},
                           "encoding": {
                             "shape": {"field": "ab", "type": "nominal", "scale": {"domain": ["DH1511","DH1515","DH1513","DH1516","DH1512","DH1514","CH65"], "range": ["circle","square","triangle-up","triangle-down","diamond","circle","square"]}, "legend": null},
                             "fill": {"field": "ab", "type": "nominal", "scale": {"domain": ["DH1511","DH1515","DH1513","DH1516","DH1512","DH1514","CH65"], "range": ["#0000FF","#FF0000","#20B020","#9B1FE8","#FF8C1A","#5AA0F5","#FFFFFF"]}, "legend": null},
                             "stroke": {"field": "ab", "type": "nominal", "legend": null}}}
                        ]
                      }
                    ]
                  },
                  {
                    "width": 16, "height": 124,
                    "data": {"name": "dlegend"},
                    "encoding": {"y": {"field": "ab", "type": "nominal", "sort": null, "scale": {"type": "point", "padding": 0}, "axis": null}},
                    "layer": [
                      {"mark": {"type": "rule", "strokeWidth": 1.5},
                       "encoding": {"stroke": {"field": "ab", "type": "nominal", "scale": {"domain": ["DH1511","DH1515","DH1513","DH1516","DH1512","DH1514","CH65"], "range": ["#0000FF","#FF0000","#20B020","#9B1FE8","#FF8C1A","#5AA0F5","#000000"]}, "legend": null}}},
                      {"mark": {"type": "point", "filled": true, "size": 80, "opacity": 1, "strokeWidth": 1.5},
                       "encoding": {
                         "shape": {"field": "ab", "type": "nominal", "scale": {"domain": ["DH1511","DH1515","DH1513","DH1516","DH1512","DH1514","CH65"], "range": ["circle","square","triangle-up","triangle-down","diamond","circle","square"]}, "legend": null},
                         "fill": {"field": "ab", "type": "nominal", "scale": {"domain": ["DH1511","DH1515","DH1513","DH1516","DH1512","DH1514","CH65"], "range": ["#0000FF","#FF0000","#20B020","#9B1FE8","#FF8C1A","#5AA0F5","#FFFFFF"]}, "legend": null},
                         "stroke": {"field": "ab", "type": "nominal", "legend": null}}},
                      {"mark": {"type": "text", "align": "left", "baseline": "middle", "dx": 14, "fontSize": 13, "color": "#000"},
                       "encoding": {"text": {"field": "ab"}}}
                    ]
                  }
                ]
              }
            ]
          }
        ]
      }
    ]
  }
]
}
